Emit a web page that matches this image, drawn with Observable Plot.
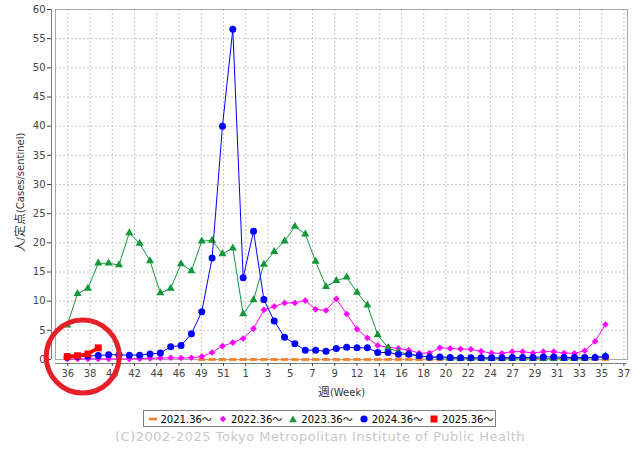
<!DOCTYPE html>
<html>
<head>
<meta charset="utf-8">
<script src="https://cdn.jsdelivr.net/npm/d3@7"></script>
<script src="https://cdn.jsdelivr.net/npm/@observablehq/plot@0.6"></script>
<style>
  @font-face {
    font-family: "JCJK";
    src: local("Noto Sans CJK JP"), local("Noto Sans CJK JP Regular"), local("NotoSansCJKjp-Regular");
    size-adjust: 118%;
    unicode-range: U+3000-30FF, U+4E00-9FFF, U+FF00-FFEF;
  }
  body { margin: 0; background: #fff; font-family: "DejaVu Sans", "Noto Sans CJK JP", sans-serif; }
  #wrap { position: relative; width: 640px; height: 450px; }
  #chart svg { display: block; }
  #legend { position: absolute; left: 143px; top: 410px; width: 351px; height: 15px; border: 1px solid #808080; box-sizing: content-box; }
  .item { position: absolute; top: 0; height: 15px; display: flex; align-items: center; font-size: 10px; color: #000; white-space: nowrap; }
  .item svg { margin-right: 4px; }
  #caption { position: absolute; left: 0; top: 429px; width: 640px; text-align: center; font-size: 13px; letter-spacing: 0.5px; color: #c8c8c8; }
</style>
</head>
<body>
<div id="wrap">
  <div id="chart"></div>
  <div id="legend"></div>
  <div id="caption">(C)2002-2025 Tokyo Metropolitan Institute of Public Health</div>
</div>
<script>
// Season weeks (category order along the x axis)
const seasonWeeks = [36,37,38,39,40,41,42,43,44,45,46,47,48,49,50,51,52,
  1,2,3,4,5,6,7,8,9,10,11,12,13,14,15,16,17,18,19,20,21,22,23,24,25,26,27,28,29,30,31,32,33,34,35,36];

// X tick labels
const tickLabels = ["36","38","40","42","44","46","49","51","1","3","5","7","9","12","14","16","18","20","22","24","27","29","31","33","35","37"];
const yTicks = [0,5,10,15,20,25,30,35,40,45,50,55,60];

// Series values (cases per sentinel); null = not shown
const s2021 = [null,null,null,null,null,null,null,null,null,null,null,null,null,0,0,0,0,0,0,0,0,0,0,0,0,0,0,0,0,0,0,0,0,0,0,0,0,0,0,0,0,0,0,0,0,0,0,0,0,0,0,0,0];
const s2022 = [0.1,0.1,0.1,0.1,0.1,0.1,0.1,0.15,0.2,0.25,0.3,0.25,0.3,0.5,1.2,2.3,2.9,3.6,5.3,8.5,9.1,9.7,9.7,10.1,8.6,8.4,10.4,7.8,5.2,3.7,2.4,2.1,1.9,1.6,1.1,1.1,2.0,1.9,1.8,1.75,1.4,1.1,1.05,1.35,1.35,1.1,1.35,1.35,1.1,1.05,1.5,3.1,6.0];
const s2023 = [5.9,11.3,12.2,16.5,16.5,16.2,21.7,19.9,16.9,11.4,12.2,16.4,15.2,20.3,20.4,18.1,19.1,7.8,10.2,16.3,18.5,20.3,22.8,21.5,16.8,12.5,13.5,14.1,11.5,9.3,4.2,2.0,1.3,0.9,0.6,0.4,0.3,0.2,0.15,0.15,0.15,0.15,0.15,0.15,0.15,0.15,0.15,0.15,0.15,0.15,0.2,0.35,0.6];
const s2024 = [0.4,0.5,0.6,0.7,0.8,0.8,0.75,0.75,0.95,1.1,2.2,2.4,4.4,8.2,17.4,40.0,56.6,14.0,22.0,10.3,6.6,3.8,2.7,1.6,1.6,1.4,1.9,2.1,2.0,2.0,1.2,1.2,0.9,0.9,0.65,0.4,0.45,0.35,0.3,0.3,0.3,0.3,0.3,0.35,0.35,0.35,0.45,0.45,0.35,0.35,0.35,0.35,0.5];
const s2025 = [0.5,0.65,0.95,2.0];

const seriesNames = ["2021.36〜","2022.36〜","2023.36〜","2024.36〜","2025.36〜"];
const seriesColors = ["#f5822a","#ff00ff","#12983a","#0000ff","#ff0000"];

// axis configuration
const xDomain = [-1.13, 54.13];
const tickStep = 2.149;
const tickPositions = tickLabels.map((_, i) => 0.06 + i * tickStep);

const rows = (vals) => vals.map((v, i) => ({k: i, week: seasonWeeks[i], v})).filter(d => d.v != null);
const r2021 = rows(s2021), r2022 = rows(s2022), r2023 = rows(s2023), r2024 = rows(s2024), r2025 = rows(s2025);

const dashSymbol = {
  draw(ctx, size) {
    const w = Math.sqrt(size) * 0.6, h = w * 0.38;
    ctx.moveTo(-w, -h); ctx.lineTo(w, -h); ctx.lineTo(w, h); ctx.lineTo(-w, h); ctx.closePath();
  }
};

const grid = {stroke: "#c8c8c8", strokeOpacity: 1, strokeDasharray: "2,2"};
const labelFont = '"DejaVu Sans", "JCJK", "Noto Sans CJK JP", sans-serif';

const W = 640, mL = 55, mR = 13;

const chart = Plot.plot({
  width: W,
  height: 400,
  marginLeft: mL,
  marginRight: mR,
  marginTop: 9,
  marginBottom: 41,
  x: {domain: xDomain},
  y: {domain: [0, 60]},
  style: {fontFamily: '"DejaVu Sans", "Noto Sans CJK JP", sans-serif', fontSize: "10px", color: "#444", background: "#fff"},
  marks: [
    Plot.gridY(yTicks, grid),
    Plot.gridX(tickPositions, grid),
    Plot.frame({stroke: "#a8a8a8"}),
    Plot.ruleX([xDomain[0]], {dx: -4, stroke: "#808080"}),
    Plot.ruleY([0], {dy: 4, stroke: "#808080"}),
    Plot.axisY(yTicks, {tickSize: 4, tickPadding: 2, dx: -4, label: null}),
    Plot.axisX(tickPositions, {tickSize: 3, tickPadding: 3, dy: 4, label: null,
      tickFormat: (d) => tickLabels[tickPositions.indexOf(d)]}),
    Plot.text(["週(Week)"], {frameAnchor: "middle", dy: 208, textAnchor: "middle", lineAnchor: "middle", fontSize: 10, fontFamily: labelFont, fill: "#333"}),
    Plot.text(["人/定点(Cases/sentinel)"], {frameAnchor: "middle", dx: 20 - (mL + (W - mL - mR) / 2), dy: 8, rotate: -90, textAnchor: "middle", lineAnchor: "middle", fontSize: 10, fontFamily: labelFont, fill: "#333"}),
    // 2021
    Plot.dot(r2021, {x: "k", y: "v", symbol: dashSymbol, r: 3.5, fill: seriesColors[0], stroke: "none"}),
    // 2022
    Plot.line(r2022, {x: "k", y: "v", stroke: seriesColors[1], strokeWidth: 1}),
    Plot.dot(r2022, {x: "k", y: "v", symbol: "diamond2", r: 3, fill: seriesColors[1], stroke: "none"}),
    // 2023
    Plot.line(r2023, {x: "k", y: "v", stroke: seriesColors[2], strokeWidth: 1}),
    Plot.dot(r2023, {x: "k", y: "v", symbol: "triangle", r: 3, fill: seriesColors[2], stroke: "none"}),
    // 2024
    Plot.line(r2024, {x: "k", y: "v", stroke: seriesColors[3], strokeWidth: 1}),
    Plot.dot(r2024, {x: "k", y: "v", symbol: "circle", r: 3.5, fill: seriesColors[3], stroke: "none"}),
    // 2025
    Plot.line(r2025, {x: "k", y: "v", stroke: seriesColors[4], strokeWidth: 3.5}),
    Plot.dot(r2025, {x: "k", y: "v", symbol: "square", r: 3.9, fill: seriesColors[4], stroke: "none"}),
    // highlight ring around the current season
    Plot.dot(r2025, Plot.groupZ({x: "mean", y: "min"}, {x: "k", y: "v", r: 36.5, stroke: "#e52029", strokeWidth: 5, fill: "none"}))
  ]
});
document.getElementById("chart").appendChild(chart);

// Legend
const legendShapes = [
  '<rect x="0" y="2.7" width="8" height="2.6"/>',
  '<path d="M4 0.8 L7.2 4 L4 7.2 L0.8 4 Z"/>',
  '<path d="M4 0.5 L7.8 7.3 L0.2 7.3 Z"/>',
  '<circle cx="4" cy="4" r="3.6"/>',
  '<rect x="0.5" y="0.5" width="7" height="7"/>'
];
const legend = document.getElementById("legend");
seriesNames.forEach((name, i) => {
  const item = document.createElement("div");
  item.className = "item";
  item.style.left = (4.5 + i * 70.4) + "px";
  item.innerHTML = `<svg width="8" height="8" viewBox="0 0 8 8" fill="${seriesColors[i]}">${legendShapes[i]}</svg><span>${name}</span>`;
  legend.appendChild(item);
});
</script>
</body>
</html>
